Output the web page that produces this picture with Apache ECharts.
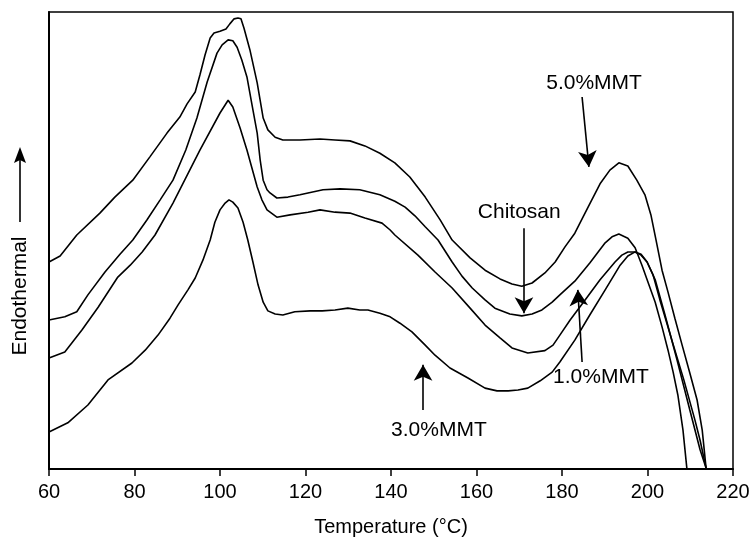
<!DOCTYPE html>
<html>
<head>
<meta charset="utf-8">
<script src="https://cdn.jsdelivr.net/npm/echarts/dist/echarts.min.js"></script>
<style>
  html, body { margin: 0; padding: 0; background: #fff; }
  #chart { width: 754px; height: 540px; }
</style>
</head>
<body>
<div id="chart"></div>
<script>
// DSC traces, temperature (°C) vs endothermal signal (arbitrary units, 0-100)
var xTicks = [60, 80, 100, 120, 140, 160, 180, 200, 220];

var mmt5Temp = [60.0, 62.6, 66.5, 71.9, 75.4, 79.6, 83.6, 87.6, 90.6, 92.3, 94.2, 95.3, 96.5, 97.7, 98.6, 100.0, 101.4, 102.3, 103.3, 104.2, 104.9, 105.6, 107.0, 108.7, 110.1, 111.2, 112.9, 114.7, 118.7, 123.4, 126.9, 130.4, 133.9, 137.4, 140.9, 144.4, 148.0, 151.5, 154.3, 158.5, 162.0, 165.5, 168.3, 170.6, 173.0, 176.0, 178.4, 180.7, 183.0, 186.1, 188.9, 191.2, 193.3, 195.4, 197.5, 199.4, 200.8, 202.0, 203.4, 204.8, 206.4, 208.1, 209.9, 211.6, 212.8, 213.7];
var mmt5Val  = [45.3, 46.6, 51.2, 56.0, 59.5, 63.2, 68.3, 73.5, 77.0, 79.9, 82.5, 86.2, 90.6, 94.3, 95.4, 95.8, 96.3, 97.4, 98.5, 98.7, 98.5, 96.5, 91.7, 84.5, 76.8, 74.2, 72.6, 72.0, 72.0, 72.2, 72.0, 71.8, 70.7, 69.1, 67.0, 63.9, 59.5, 54.5, 50.1, 46.2, 43.5, 41.6, 40.5, 40.0, 40.7, 42.9, 45.3, 48.6, 51.6, 57.3, 62.4, 65.4, 67.0, 66.3, 63.2, 60.0, 55.6, 50.1, 43.5, 38.7, 33.0, 27.1, 21.0, 15.1, 8.5, 0.2];

var chitosanTemp = [60.0, 63.7, 66.5, 69.1, 73.1, 76.6, 79.6, 82.9, 86.0, 89.0, 92.0, 94.6, 97.0, 99.3, 100.5, 101.9, 103.0, 104.0, 105.1, 106.3, 107.5, 108.7, 109.4, 110.1, 111.0, 111.7, 113.3, 115.9, 118.7, 124.1, 128.1, 132.7, 137.4, 140.9, 143.3, 145.6, 148.0, 151.0, 154.3, 156.6, 159.0, 162.0, 164.3, 167.8, 170.6, 173.0, 175.3, 177.7, 179.5, 183.0, 186.5, 190.1, 191.7, 193.3, 195.4, 197.1, 198.7, 200.1, 201.8, 203.4, 204.8, 206.0, 207.1, 208.3, 209.2];
var chitosanVal  = [32.6, 33.3, 34.4, 38.1, 43.1, 47.0, 50.1, 54.5, 58.9, 63.2, 69.8, 76.8, 84.7, 91.0, 92.8, 93.9, 93.7, 92.3, 89.5, 85.8, 79.6, 73.5, 67.6, 63.2, 61.1, 60.4, 59.3, 59.5, 60.0, 61.1, 61.3, 61.1, 60.0, 58.6, 57.3, 55.4, 53.0, 50.1, 45.3, 42.2, 39.6, 37.0, 35.2, 33.9, 33.5, 33.9, 34.8, 36.5, 38.1, 41.1, 45.1, 49.5, 50.8, 51.4, 50.5, 48.4, 44.6, 40.9, 36.5, 31.1, 26.0, 21.2, 16.2, 8.5, 0.2];

var mmt1Temp = [60.0, 63.7, 67.7, 71.5, 76.1, 79.0, 81.8, 84.8, 89.0, 95.3, 100.0, 101.9, 103.0, 104.7, 106.3, 108.7, 109.8, 111.0, 113.3, 116.4, 120.6, 123.4, 126.9, 130.4, 133.9, 137.9, 139.8, 140.9, 146.3, 150.3, 154.3, 158.5, 162.0, 165.5, 168.3, 172.0, 176.0, 177.9, 179.5, 181.9, 185.4, 188.9, 192.4, 194.0, 195.4, 197.1, 198.5, 199.9, 201.3, 202.9, 204.3, 205.7, 208.5, 211.1, 212.3, 213.7];
var mmt1Val  = [24.3, 25.6, 30.4, 35.4, 42.0, 44.6, 47.5, 51.2, 58.2, 69.8, 77.9, 80.7, 79.2, 74.6, 69.8, 61.7, 58.9, 56.7, 55.1, 55.6, 56.2, 56.7, 56.2, 56.0, 54.9, 53.8, 52.3, 51.2, 46.8, 43.1, 39.6, 35.2, 31.5, 28.7, 26.5, 25.4, 25.9, 27.1, 29.3, 32.6, 37.0, 41.4, 45.3, 46.8, 47.5, 47.5, 46.8, 45.3, 42.5, 37.0, 32.6, 28.2, 19.5, 10.7, 6.3, 0.2];

var mmt3Temp = [60.0, 64.4, 69.1, 73.8, 79.4, 82.5, 85.5, 88.3, 90.2, 92.5, 94.2, 96.0, 97.7, 98.8, 100.0, 101.2, 102.1, 103.0, 104.2, 105.4, 106.5, 107.7, 108.9, 110.1, 111.2, 112.9, 114.7, 117.5, 121.1, 123.9, 126.9, 129.9, 132.7, 134.6, 137.4, 139.8, 142.1, 144.9, 148.0, 150.3, 153.8, 158.0, 162.0, 164.8, 167.4, 169.7, 172.0, 174.9, 177.7, 179.5, 183.0, 186.5, 190.1, 193.6, 195.4, 197.1, 198.5, 199.9, 201.8, 204.1, 206.9, 209.9, 212.3, 213.7];
var mmt3Val  = [8.1, 10.1, 14.0, 19.5, 23.2, 26.0, 29.3, 33.0, 35.9, 39.2, 41.8, 45.7, 50.1, 54.0, 56.7, 58.2, 58.9, 58.4, 57.1, 54.0, 50.1, 45.3, 40.3, 36.5, 34.6, 33.9, 33.7, 34.4, 34.6, 34.6, 34.8, 35.2, 34.8, 34.8, 34.1, 33.3, 31.9, 30.0, 27.1, 24.9, 22.1, 19.9, 17.7, 17.1, 17.1, 17.3, 17.7, 19.3, 21.2, 23.4, 28.2, 33.7, 39.2, 44.6, 46.6, 47.5, 47.0, 45.3, 41.4, 33.7, 23.9, 12.9, 4.2, 0.2];

// annotation labels: text position and arrow [from, to], in data coordinates
var noteTexts  = ['5.0%MMT', 'Chitosan', '1.0%MMT', '3.0%MMT'];
var notePos    = [[187.5, 84.5], [170.0, 56.2], [189.1, 20.1], [151.2, 8.5]];
var arrowFrom  = [[184.7, 81.4], [171.1, 52.7], [184.7, 23.4], [147.5, 12.9]];
var arrowTo    = [[186.3, 66.1], [171.1, 34.1], [183.7, 39.2], [147.5, 22.8]];

function pairs(xs, ys) {
  return xs.map(function (x, i) { return [x, ys[i]]; });
}

var FONT = '"Liberation Sans", Arial, Helvetica, sans-serif';
var chart = echarts.init(document.getElementById('chart'));

var lineStyle = { color: '#000', width: 1.6 };
function curve(name, xs, ys) {
  return {
    name: name, type: 'line', data: pairs(xs, ys),
    showSymbol: false, smooth: false,
    lineStyle: lineStyle, silent: true, animation: false
  };
}

var series = [
  curve('5.0%MMT', mmt5Temp, mmt5Val),
  curve('Chitosan', chitosanTemp, chitosanVal),
  curve('1.0%MMT', mmt1Temp, mmt1Val),
  curve('3.0%MMT', mmt3Temp, mmt3Val)
];

series[0].markLine = {
  silent: true,
  animation: false,
  symbol: ['none', 'arrow'],
  symbolSize: [14, 16],
  label: { show: false },
  lineStyle: { color: '#000', width: 1.6, type: 'solid' },
  data: arrowFrom.map(function (p, i) {
    return [{ coord: p }, { coord: arrowTo[i] }];
  })
};

chart.setOption({
  animation: false,
  backgroundColor: '#fff',
  grid: {
    left: 49, right: 21, top: 12, bottom: 71,
    containLabel: false, outerBoundsMode: 'none',
    show: true, borderColor: '#000', borderWidth: 1.5, backgroundColor: 'transparent'
  },
  xAxis: {
    type: 'value', min: 60, max: 220, interval: 20,
    name: 'Temperature (°C)', nameLocation: 'middle', nameGap: 48,
    nameTextStyle: { color: '#000', fontSize: 20, fontFamily: FONT },
    axisLine: { show: true, lineStyle: { color: '#000', width: 2 } },
    axisTick: { show: true, inside: false, length: 7, lineStyle: { color: '#000', width: 1.5 } },
    axisLabel: { color: '#000', fontSize: 20, fontFamily: FONT, margin: 13,
      formatter: function (v) { return xTicks.indexOf(v) >= 0 ? String(v) : ''; } },
    splitLine: { show: false }
  },
  yAxis: {
    type: 'value', min: 0, max: 100,
    axisLine: { show: true, lineStyle: { color: '#000', width: 2 } },
    axisTick: { show: false },
    axisLabel: { show: false },
    splitLine: { show: false }
  },
  series: series
});

// text labels and the y-axis "Endothermal" caption with arrow
var graphics = noteTexts.map(function (t, i) {
  var p = chart.convertToPixel({ gridIndex: 0 }, notePos[i]);
  return {
    type: 'text', x: p[0], y: p[1], silent: true,
    style: { text: t, fill: '#000', font: '21px ' + FONT, align: 'center', verticalAlign: 'middle' }
  };
});
graphics.push({
  type: 'text', x: 20, y: 296, rotation: Math.PI / 2, silent: true,
  style: { text: 'Endothermal', fill: '#000', font: '21px ' + FONT, align: 'center', verticalAlign: 'middle' }
});
graphics.push({
  type: 'line', silent: true,
  shape: { x1: 20, y1: 222, x2: 20, y2: 160 },
  style: { stroke: '#000', lineWidth: 1.6 }
});
graphics.push({
  type: 'polygon', silent: true,
  shape: { points: [[20, 147], [26, 163], [20, 160], [14, 163]] },
  style: { fill: '#000' }
});
chart.setOption({ graphic: graphics });
</script>
</body>
</html>
